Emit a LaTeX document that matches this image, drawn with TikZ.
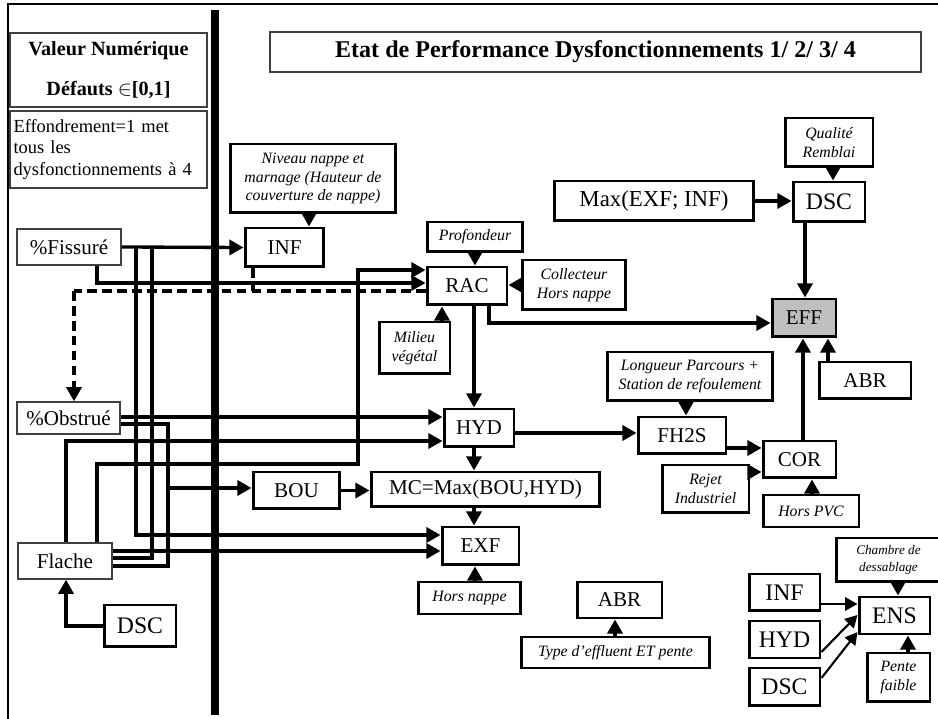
\documentclass[tikz,border=0pt]{standalone}
\usepackage{fontspec}
\setmainfont{Liberation Serif}
\usetikzlibrary{arrows.meta}
\tikzset{
  blk/.style={draw,line width=1.7pt,fill=white,inner sep=1pt,font=\fontsize{12}{14}\selectfont},
  grand/.style={blk,font=\fontsize{13.5}{15}\selectfont},
  lbl/.style={draw,line width=1.7pt,fill=white,inner sep=1pt,align=center,font=\itshape\fontsize{9}{10.5}\selectfont},
  src/.style={draw=black!75,line width=0.8pt,fill=white,inner sep=1pt,font=\fontsize{12}{14}\selectfont},
  fl/.style={line width=1.9pt,-{Triangle[length=8pt,width=8.5pt]}},
  fin/.style={line width=1.2pt,-{Triangle[length=7pt,width=7.5pt]}},
  trait/.style={line width=1.9pt},
  pointille/.style={line width=1.9pt,dash pattern=on 5.5pt off 3pt},
}
\begin{document}
\begin{tikzpicture}[x=0.02cm,y=-0.02cm]
\useasboundingbox (0,0) rectangle (938,719);
% cadre et barre
\draw[line width=1.2pt] (8,719) -- (8,4) -- (938,4);
\fill (211,10) rectangle (219,715);

% partie gauche
\node[src,minimum width=3.94cm,minimum height=1.48cm,align=center,font=\bfseries\fontsize{11.5}{22.7}\selectfont] (valeur) at (108.5,70) {Valeur Numérique\\Défauts $\in$[0,1]};
\node[src,text width=3.8cm,inner xsep=0.07cm,minimum height=1.54cm,align=left,font=\fontsize{10.5}{12.5}\selectfont] (effond) at (108.5,149.5) {Effondrement=1 met\\tous les\\dysfonctionnements à 4};
\node[src,minimum width=2.08cm,minimum height=0.72cm] (fiss) at (69,247) {\%Fissuré};
\node[src,minimum width=2.06cm,minimum height=0.64cm] (obst) at (68.5,418) {\%Obstrué};
\node[src,minimum width=1.88cm,minimum height=0.72cm] (flache) at (65,561) {Flache};
\node[grand,minimum width=1.44cm,minimum height=0.84cm] (dscL) at (140,626) {DSC};

% partie droite
\node[src,minimum width=13.02cm,minimum height=0.8cm,font=\bfseries\fontsize{13.7}{15}\selectfont] (titre) at (595.5,52) {Etat de Performance Dysfonctionnements 1/ 2/ 3/ 4};
\node[lbl,minimum width=3.32cm,minimum height=1.38cm] (niveau) at (313,178.5) {Niveau nappe et\\marnage (Hauteur de\\couverture de nappe)};
\node[blk,minimum width=1.58cm,minimum height=0.78cm] (infA) at (284.5,247.5) {INF};
\node[lbl,minimum width=1.92cm,minimum height=0.6cm] (prof) at (475,237) {Profondeur};
\node[blk,minimum width=1.6cm,minimum height=0.76cm] (rac) at (467,286) {RAC};
\node[lbl,minimum width=2.08cm,minimum height=1.0cm] (coll) at (574,285) {Collecteur\\Hors nappe};
\node[lbl,minimum width=1.42cm,minimum height=1.04cm] (milieu) at (414.5,348) {Milieu\\végétal};
\node[blk,minimum width=4.0cm,minimum height=0.8cm,font=\fontsize{13}{15}\selectfont] (maxEI) at (654,201) {Max(EXF; INF)};
\node[grand,minimum width=1.44cm,minimum height=0.8cm] (dscT) at (829,202) {DSC};
\node[lbl,minimum width=1.76cm,minimum height=0.98cm] (qual) at (829,142.5) {Qualité\\Remblai};
\node[blk,fill=gray!50,minimum width=1.28cm,minimum height=0.76cm] (eff) at (804,318) {EFF};
\node[blk,minimum width=1.4cm,minimum height=0.76cm] (hyd) at (479,428) {HYD};
\node[lbl,minimum width=3.32cm,minimum height=0.98cm] (longueur) at (690,376.5) {Longueur Parcours +\\Station de refoulement};
\node[blk,minimum width=1.76cm,minimum height=0.74cm] (fh2s) at (682,435.5) {FH2S};
\node[blk,minimum width=1.46cm,minimum height=0.74cm] (cor) at (799.5,459.5) {COR};
\node[blk,minimum width=1.84cm,minimum height=0.74cm] (abrA) at (865,380.5) {ABR};
\node[lbl,minimum width=1.74cm,minimum height=0.96cm] (rejet) at (705.5,489) {Rejet\\Industriel};
\node[lbl,minimum width=1.92cm,minimum height=0.64cm] (horspvc) at (811,511) {Hors PVC};
\node[blk,minimum width=1.74cm,minimum height=0.74cm] (bou) at (296.5,490.5) {BOU};
\node[blk,minimum width=4.58cm,minimum height=0.7cm] (mc) at (485.5,489.5) {MC=Max(BOU,HYD)};
\node[blk,minimum width=1.54cm,minimum height=0.76cm] (exf) at (480.5,546) {EXF};
\node[lbl,minimum width=2.06cm,minimum height=0.64cm] (horsnappe) at (469.5,598) {Hors nappe};
\node[blk,minimum width=1.7cm,minimum height=0.72cm] (abrB) at (619.5,600) {ABR};
\node[lbl,minimum width=3.78cm,minimum height=0.62cm] (typeeff) at (615.5,652.5) {Type d’effluent ET pente};
\node[grand,minimum width=1.42cm,minimum height=0.74cm] (infB) at (784.5,592.5) {INF};
\node[grand,minimum width=1.42cm,minimum height=0.74cm] (hydB) at (784.5,639.5) {HYD};
\node[grand,minimum width=1.42cm,minimum height=0.76cm] (dscB) at (784.5,687) {DSC};
\node[grand,minimum width=1.42cm,minimum height=0.74cm] (ens) at (894.5,615.5) {ENS};
\node[lbl,minimum width=2.1cm,minimum height=0.88cm,font=\itshape\fontsize{7.5}{10}\selectfont] (chambre) at (888.5,560) {Chambre de\\dessablage};
\node[lbl,minimum width=1.26cm,minimum height=0.98cm] (pente) at (898.5,677.5) {Pente\\faible};

% liaisons depuis la gauche
\coordinate (jObs) at (74,291);
\coordinate (jBou) at (168,488);
\draw[fl] (fiss.east) -- (infA.west);
\draw[fl] (fiss.east -| 136,0) |- (exf.west |- 0,535);
\draw[trait] (fiss.east -| 152,0) |- (flache.east |- 0,558);
\draw[fl] (fiss.south -| 97,0) |- (rac.west |- 0,283);
\draw[pointille] (rac.west |- 0,291) -- (jObs);
\draw[pointille,-{Triangle[length=8pt,width=8.5pt]}] (jObs) -- (obst.north -| jObs);
\draw[pointille] (infA.south -| 253,0) -- (253,291);
\draw[fl] (obst.east |- 0,417) -- (hyd.west |- 0,417);
\draw[trait] (obst.east |- 0,424) -| (168,566) -- (flache.east |- 0,566);
\draw[fl] (jBou) -- (bou.west |- jBou);
\draw[fl] (flache.north -| 66,0) |- (hyd.west |- 0,441);
\draw[fl] (flache.north -| 97,0) |- (358,464) |- (rac.west |- 0,270);
\draw[fl] (flache.east |- 0,551) -- (exf.west |- 0,551);
\draw[fl] (dscL.west) -| (flache.south -| 66,0);

% liaisons a droite
\draw[fl] (niveau.south -| 309,0) -- (infA.north -| 309,0);
\draw[fl] (prof.south) -- (rac.north -| prof.south);
\draw[fl] (coll.west) -- (coll.west -| rac.east);
\draw[fl] (milieu.north -| 442,0) -- (rac.south -| 442,0);
\draw[fl] (rac.south -| 474,0) -- (hyd.north -| 474,0);
\draw[fl] (rac.south -| 489,0) |- (eff.west |- 0,323);
\draw[fl] (hyd.south -| 474,0) -- (mc.north -| 474,0);
\draw[fl] (mc.south -| 474,0) -- (exf.north -| 474,0);
\draw[fl] (horsnappe.north -| 475,0) -- (exf.south -| 475,0);
\draw[fl] (bou.east) -- (mc.west |- bou.east);
\draw[fl] (hyd.east |- 0,433) -- (fh2s.west |- 0,433);
\draw[fl] (longueur.south -| 686,0) -- (fh2s.north -| 686,0);
\draw[fl] (fh2s.east |- 0,448) -- (cor.west |- 0,448);
\draw[fl] (rejet.east |- 0,472) -- (cor.west |- 0,472);
\draw[fl] (horspvc.north -| 812,0) -- (cor.south -| 812,0);
\draw[fl] (cor.north -| 803,0) -- (eff.south -| 803,0);
\draw[fl] (abrA.north -| 828,0) -- (eff.south -| 828,0);
\draw[fl] (maxEI.east) -- (dscT.west |- maxEI.east);
\draw[fl] (qual.south -| 833,0) -- (dscT.north -| 833,0);
\draw[fl] (dscT.south -| 805,0) -- (eff.north -| 805,0);
\draw[fl] (typeeff.north -| 615,0) -- (abrB.south -| 615,0);
\draw[fl] (chambre.south -| 898,0) -- (ens.north -| 898,0);
\draw[fl] (pente.north -| 908,0) -- (ens.south -| 908,0);
\draw[fin] (infB.east |- 0,604) -- (ens.west |- 0,604);
\draw[fin] (hydB.east |- 0,652) -- (ens.west |- 0,615);
\draw[fin] (dscB.east |- 0,678) -- (ens.west |- 0,632);
\end{tikzpicture}
\end{document}
